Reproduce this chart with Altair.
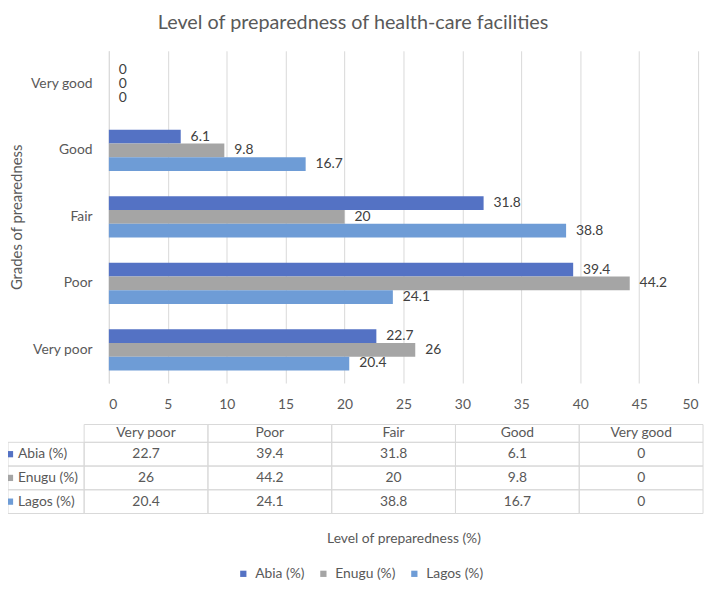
import altair as alt
import pandas as pd

# ---------------- data ----------------
grades = ["Very poor", "Poor", "Fair", "Good", "Very good"]
series = ["Abia (%)", "Enugu (%)", "Lagos (%)"]
abia = [22.7, 39.4, 31.8, 6.1, 0]
enugu = [26, 44.2, 20, 9.8, 0]
lagos = [20.4, 24.1, 38.8, 16.7, 0]
x_ticks = [0, 5, 10, 15, 20, 25, 30, 35, 40, 45, 50]
colors = ["#5472C4", "#A5A5A5", "#6E9CD6"]

series_values = {"Abia (%)": abia, "Enugu (%)": enugu, "Lagos (%)": lagos}

FONT = "Lato"
TXT = "#595959"
GRID = "#D9D9D9"

W, H = 596, 336

rows = []
for s in series:
    for g, v in zip(grades, series_values[s]):
        rows.append({"grade": g, "series": s, "value": v, "label": f"{v:g}"})
df = pd.DataFrame(rows)

y_order = grades[::-1]

color = alt.Color(
    "series:N",
    scale=alt.Scale(domain=series, range=colors),
    legend=alt.Legend(
        orient="none", direction="horizontal", legendX=129, legendY=522,
        title=None, symbolType="square", symbolSize=40, symbolStrokeWidth=0,
        labelFontSize=14, labelColor=TXT, labelFont=FONT, columnPadding=12,
        labelOffset=5, padding=0,
    ),
)

ysc = alt.Scale(domain=y_order, paddingInner=0.38, paddingOuter=0.19)
yoff = alt.YOffset("series:N", sort=series, scale=alt.Scale(domain=series))

bars = alt.Chart(df).mark_bar().encode(
    x=alt.X(
        "value:Q",
        scale=alt.Scale(domain=[0, 50], nice=False),
        axis=alt.Axis(
            values=x_ticks, grid=True, gridColor=GRID, domain=False, ticks=False,
            labelFontSize=14, labelColor=TXT, labelFont=FONT, labelPadding=15,
            title="Level of preparedness (%)", titleFontSize=14, titleFont=FONT,
            titleColor=TXT, titleFontWeight="normal", titleX=W / 2, titleY=157,
            titleBaseline="middle", titleAlign="center",
        ),
    ),
    y=alt.Y(
        "grade:N", scale=ysc, sort=y_order,
        axis=alt.Axis(
            title="Grades of prearedness", titleFontSize=15, titleFont=FONT,
            titleColor=TXT, titleFontWeight="normal", titleX=-93, titleY=H / 2,
            titleAngle=-90, titleBaseline="middle", titleAlign="center",
            ticks=False, domainColor=GRID, labelFontSize=14, labelColor=TXT,
            labelFont=FONT, labelPadding=17,
        ),
    ),
    yOffset=yoff,
    color=color,
)

labels = alt.Chart(df).mark_text(
    align="left", baseline="middle", dx=10, font=FONT, fontSize=14, color="#404040"
).encode(
    x=alt.X("value:Q", scale=alt.Scale(domain=[0, 50], nice=False)),
    y=alt.Y("grade:N", scale=ysc, sort=y_order),
    yOffset=yoff,
    text="label:N",
)

bar_layer = alt.layer(bars, labels)

# ---------------- data table ----------------
COL_W = 125.2          # pixel width of a data column
LBL = 77 / COL_W        # width of row-label column in column units
HDR = 0.75              # header row height in row units


def row_top(r):
    return 0 if r == 0 else HDR + (r - 1)


def row_bot(r):
    return HDR if r == 0 else HDR + r


cells = []
for r in range(4):
    for c in range(5):
        cells.append({"x": c, "x2": c + 1, "y": row_top(r), "y2": row_bot(r)})
for r in range(1, 4):
    cells.append({"x": -LBL, "x2": 0, "y": row_top(r), "y2": row_bot(r)})
cells_df = pd.DataFrame(cells)

texts = []
for c, g in enumerate(grades):
    texts.append({"x": c + 0.5, "y": HDR / 2, "t": g})
for r, s in enumerate(series, start=1):
    for c, v in enumerate(series_values[s]):
        texts.append({"x": c + 0.5, "y": (row_top(r) + row_bot(r)) / 2, "t": f"{v:g}"})
texts_df = pd.DataFrame(texts)

row_lbls = pd.DataFrame([
    {"series": s, "xs": -LBL + 2 / COL_W, "xt": -LBL + 10 / COL_W,
     "y": (row_top(r) + row_bot(r)) / 2}
    for r, s in enumerate(series, start=1)
])

tx = alt.Scale(domain=[-LBL, 5], range=[-102, 601], nice=False, zero=False)
ty = alt.Scale(domain=[0, HDR + 3], range=[378, 468], nice=False, zero=False)

t_cells = alt.Chart(cells_df).mark_rect(
    fillOpacity=0, stroke=GRID, strokeWidth=1
).encode(
    x=alt.X("x:Q", scale=tx, axis=None), x2="x2:Q",
    y=alt.Y("y:Q", scale=ty, axis=None), y2="y2:Q",
)

t_text = alt.Chart(texts_df).mark_text(
    font=FONT, fontSize=14, color=TXT, baseline="middle", align="center"
).encode(
    x=alt.X("x:Q", scale=tx, axis=None),
    y=alt.Y("y:Q", scale=ty, axis=None),
    text="t:N",
)

t_sq = alt.Chart(row_lbls).mark_point(
    shape="square", filled=True, size=40, opacity=1
).encode(
    x=alt.X("xs:Q", scale=tx, axis=None),
    y=alt.Y("y:Q", scale=ty, axis=None),
    color=alt.Color("series:N", scale=alt.Scale(domain=series, range=colors), legend=None),
)

t_lbl = alt.Chart(row_lbls).mark_text(
    font=FONT, fontSize=14, color=TXT, baseline="middle", align="left"
).encode(
    x=alt.X("xt:Q", scale=tx, axis=None),
    y=alt.Y("y:Q", scale=ty, axis=None),
    text="series:N",
)

table_layer = alt.layer(t_cells, t_text, t_sq, t_lbl)

chart = alt.layer(bar_layer, table_layer).resolve_scale(
    x="independent", y="independent"
).properties(
    width=W, height=H,
    autosize=alt.AutoSizeParams(type="none"),
    padding={"left": 102, "top": 40, "right": 8, "bottom": 200},
    title=alt.TitleParams(
        "Level of preparedness of health-care facilities", anchor="middle",
        frame="group", dx=-51, fontSize=20, font=FONT, color=TXT,
        fontWeight="normal", offset=18,
    ),
).configure_view(stroke=None)

chart.save("out.html", embed_options={"renderer": "svg", "actions": False})
